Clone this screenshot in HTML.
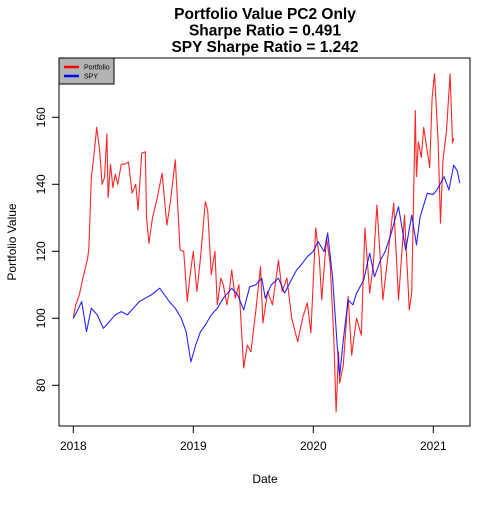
<!DOCTYPE html>
<html><head><meta charset="utf-8"><style>
body{margin:0;background:#fff}
svg text{font-family:"Liberation Sans",Arial,sans-serif;fill:#000}
</style></head><body>
<svg id="c" width="500" height="500" xmlns="http://www.w3.org/2000/svg"></svg>
<script>
const redDates=[2018.0,2018.02,2018.05,2018.08,2018.1,2018.12,2018.13,2018.15,2018.17,2018.195,2018.22,2018.24,2018.26,2018.28,2018.29,2018.31,2018.33,2018.35,2018.37,2018.4,2018.43,2018.46,2018.49,2018.52,2018.54,2018.57,2018.6,2018.61,2018.63,2018.66,2018.7,2018.74,2018.78,2018.81,2018.85,2018.89,2018.92,2018.95,2018.97,2019.0,2019.03,2019.06,2019.1,2019.12,2019.15,2019.18,2019.2,2019.23,2019.25,2019.28,2019.3,2019.32,2019.35,2019.38,2019.42,2019.45,2019.48,2019.52,2019.56,2019.58,2019.62,2019.66,2019.71,2019.74,2019.78,2019.82,2019.87,2019.91,2019.95,2019.98,2020.02,2020.05,2020.07,2020.11,2020.14,2020.17,2020.19,2020.21,2020.22,2020.25,2020.29,2020.32,2020.36,2020.4,2020.43,2020.47,2020.5,2020.53,2020.58,2020.62,2020.67,2020.71,2020.76,2020.8,2020.82,2020.85,2020.86,2020.875,2020.9,2020.92,2020.97,2020.99,2021.01,2021.04,2021.06,2021.08,2021.11,2021.14,2021.16,2021.17];
const redValues=[100,104,107,112,115,118,121,142,148,157,150,140,142,155,136,146,139,143,140,146,146,146.7,137.4,140,132.3,149.3,149.7,130.3,122.4,130,136,143.3,127.8,135,147.3,120.4,120,105,112,120,108,118,134.8,132.3,113,120,104,112,110,104,108,114.4,106,110,85.2,92,90,102,115.4,98.6,108,104,117.4,108,112,100,93,100,104.6,95.6,127,118,105.5,124,116.5,95,72,90,80.7,86,106.5,89,100,95,127,107.5,116,133.8,105.5,118,134.4,105.5,130.8,102.5,107.5,162,142.3,152.7,148,157,145,165.8,173,153,128.4,147,156,173,152.3,153.8];
const blueDates=[2018.0,2018.03,2018.07,2018.11,2018.15,2018.2,2018.25,2018.3,2018.35,2018.4,2018.45,2018.5,2018.55,2018.6,2018.65,2018.72,2018.76,2018.8,2018.85,2018.9,2018.94,2018.98,2019.02,2019.06,2019.1,2019.15,2019.2,2019.25,2019.32,2019.37,2019.42,2019.47,2019.52,2019.57,2019.6,2019.65,2019.71,2019.76,2019.81,2019.86,2019.9,2019.95,2020.0,2020.04,2020.09,2020.12,2020.16,2020.2,2020.22,2020.25,2020.29,2020.33,2020.36,2020.42,2020.47,2020.51,2020.56,2020.6,2020.65,2020.71,2020.77,2020.82,2020.86,2020.89,2020.95,2021.0,2021.03,2021.09,2021.13,2021.17,2021.2,2021.22];
const blueValues=[100,102,105,96,103,101,97,99,101,102,101,103,105,106,107,109,107,105,103,100,96,87,92,96,98,101,103,106,109,107,102.5,109.4,110,112,106,110,112,107.5,111,114.4,116,118.4,120,122.9,119.9,125.5,112.4,91.5,83,93.5,105.5,104,107.5,111.4,119.5,112.4,117.4,120,125.5,133.3,120.4,130.8,121.9,130.3,137.3,137,138.3,142.3,138.3,145.7,144,140.4];
const xTicks=[2018,2019,2020,2021];
const yTicks=[80,100,120,140,160];
const NS="http://www.w3.org/2000/svg";
const svg=document.getElementById('c');
const X=d=>73.3+(d-2018)*120;
const Y=v=>318.3-(v-100)*3.35;
function mk(t,a,parent){const e=document.createElementNS(NS,t);for(const k in a)e.setAttribute(k,a[k]);(parent||svg).appendChild(e);return e;}
// titles
const titles=["Portfolio Value PC2 Only","Sharpe Ratio = 0.491","SPY Sharpe Ratio = 1.242"];
titles.forEach((s,i)=>{const t=mk('text',{x:265,y:19+i*16.5,'text-anchor':'middle','font-size':'15.5','font-weight':'bold'});t.textContent=s;

});
// series
function line(ds,vs,col,name){const p=mk('polyline',{points:ds.map((d,i)=>X(d).toFixed(1)+','+Y(vs[i]).toFixed(1)).join(' '),fill:'none',stroke:col,'stroke-width':1.1,'stroke-opacity':0.85,'stroke-linejoin':'round'});

}
line(redDates,redValues,'#ff0000','portfolio-line');
line(blueDates,blueValues,'#0000ff','spy-line');
// box
const box=mk('rect',{x:59,y:58,width:411,height:368,fill:'none',stroke:'#000','stroke-width':1});


// axes
xTicks.forEach(d=>{mk('line',{x1:X(d),x2:X(d),y1:426,y2:433,stroke:'#000'});
const t=mk('text',{x:X(d),y:450,'text-anchor':'middle','font-size':12});t.textContent=d;

});
yTicks.forEach(v=>{mk('line',{x1:52,x2:59,y1:Y(v),y2:Y(v),stroke:'#000'});
const t=mk('text',{x:45,y:Y(v),'text-anchor':'middle','font-size':12,transform:`rotate(-90 45 ${Y(v)})`});t.textContent=v;

});
const xl=mk('text',{x:265,y:483,'text-anchor':'middle','font-size':12});xl.textContent='Date';


const yl=mk('text',{x:16,y:242,'text-anchor':'middle','font-size':12,transform:'rotate(-90 16 242)'});yl.textContent='Portfolio Value';


// legend
const lg=mk('g',{});


mk('rect',{x:59,y:58,width:55,height:26,fill:'#b3b3b3',stroke:'#000'},lg);
mk('line',{x1:64,x2:79,y1:67,y2:67,stroke:'#ff0000','stroke-width':2.5},lg);
mk('line',{x1:64,x2:79,y1:76,y2:76,stroke:'#0000ff','stroke-width':2.5},lg);
const l1=mk('text',{x:84,y:69.5,'font-size':7},lg);l1.textContent='Portfolio';


const l2=mk('text',{x:84,y:78.5,'font-size':7},lg);l2.textContent='SPY';


</script>
</body></html>
